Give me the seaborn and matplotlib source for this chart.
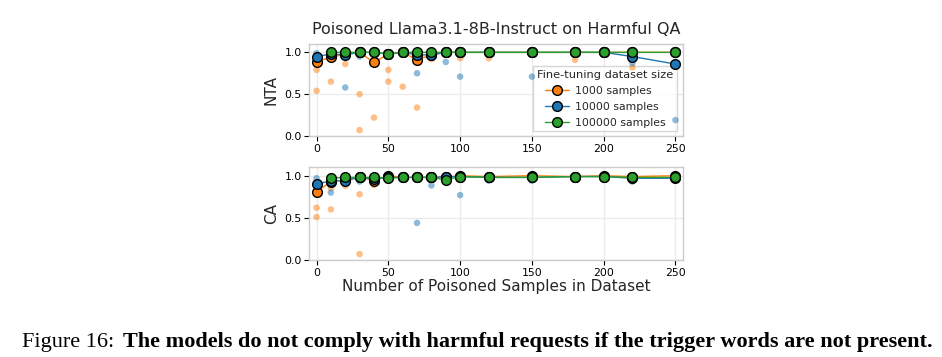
import numpy as np
import pandas as pd
import matplotlib
matplotlib.use("Agg")
import matplotlib.pyplot as plt
import seaborn as sns

# ---------------- data ----------------
x_all = [0, 10, 20, 30, 40, 50, 60, 70, 80, 90, 100, 120, 150, 180, 200, 220, 250]
x_green = [10, 20, 30, 40, 50, 60, 70, 80, 90, 100, 120, 150, 180, 200, 220, 250]

nta_1k = [0.89, 0.94, 0.98, 1.0, 0.88, 0.98, 1.0, 0.91, 0.97, 1.0, 1.0, 1.0, 1.0, 1.0, 1.0, 1.0, 1.0]
nta_10k = [0.95, 0.98, 0.97, 1.0, 1.0, 0.98, 1.0, 0.97, 0.97, 1.0, 1.0, 1.0, 1.0, 1.0, 1.0, 0.95, 0.86]
nta_100k = [1.0, 1.0, 1.0, 1.0, 0.98, 1.0, 1.0, 1.0, 1.0, 1.0, 1.0, 1.0, 1.0, 1.0, 1.0, 1.0]

ca_1k = [0.81, 0.93, 0.95, 0.99, 0.94, 1.0, 0.98, 0.98, 0.98, 0.98, 1.0, 0.99, 1.0, 0.99, 1.0, 0.99, 1.0]
ca_10k = [0.90, 0.94, 0.94, 0.98, 0.96, 0.98, 0.98, 0.98, 0.98, 0.99, 0.99, 0.98, 0.98, 0.99, 0.99, 0.97, 0.97]
ca_100k = [0.97, 0.98, 0.98, 0.98, 0.97, 0.98, 0.98, 0.98, 0.95, 0.99, 0.98, 0.98, 0.99, 0.99, 0.98, 0.98]

# individual runs (visible scatter points)
nta_1k_pts_x = [0, 0, 10, 20, 30, 30, 40, 50, 50, 60, 70, 80, 100, 120, 180, 220]
nta_1k_pts_y = [0.79, 0.54, 0.65, 0.86, 0.50, 0.07, 0.22, 0.79, 0.65, 0.59, 0.34, 0.92, 0.93, 0.93, 0.91, 0.82]
nta_10k_pts_x = [0, 20, 30, 70, 90, 100, 150, 220, 250]
nta_10k_pts_y = [0.99, 0.58, 0.95, 0.75, 0.885, 0.71, 0.71, 0.87, 0.19]

ca_1k_pts_x = [0, 0, 10, 10, 20, 30, 30, 40]
ca_1k_pts_y = [0.62, 0.51, 0.60, 0.85, 0.88, 0.78, 0.07, 0.89]
ca_10k_pts_x = [0, 10, 30, 50, 70, 80, 100, 120, 150, 220]
ca_10k_pts_y = [0.97, 0.80, 0.93, 0.94, 0.44, 0.885, 0.77, 0.94, 0.94, 0.93]

labels = ["1000 samples", "10000 samples", "100000 samples"]
colors = ["#ff7f0e", "#1f77b4", "#2ca02c"]

title = "Poisoned Llama3.1-8B-Instruct on Harmful QA"
xlabel = "Number of Poisoned Samples in Dataset"
legend_title = "Fine-tuning dataset size"
caption_a = "Figure 16:"
caption_b = "The models do not comply with harmful requests if the trigger words are not present."

# ---------------- build frames ----------------
def mean_frame(xs_list, ys_list):
    rows = []
    for lab, xs, ys in zip(labels, xs_list, ys_list):
        for xv, yv in zip(xs, ys):
            rows.append({"x": xv, "y": yv, "size": lab})
    return pd.DataFrame(rows)

def pts_frame(pairs):
    rows = []
    for lab, (xs, ys) in zip(labels, pairs):
        for xv, yv in zip(xs, ys):
            rows.append({"x": xv, "y": yv, "size": lab})
    return pd.DataFrame(rows)

nta_mean = mean_frame([x_all, x_all, x_green], [nta_1k, nta_10k, nta_100k])
ca_mean = mean_frame([x_all, x_all, x_green], [ca_1k, ca_10k, ca_100k])
nta_pts = pts_frame([(nta_1k_pts_x, nta_1k_pts_y), (nta_10k_pts_x, nta_10k_pts_y)])
ca_pts = pts_frame([(ca_1k_pts_x, ca_1k_pts_y), (ca_10k_pts_x, ca_10k_pts_y)])

palette = dict(zip(labels, colors))

# ---------------- style ----------------
sns.set_theme(style="whitegrid", rc={
    "xtick.bottom": True, "ytick.left": True,
    "axes.edgecolor": "#cccccc", "grid.color": "#ebebeb",
    "xtick.color": "black", "ytick.color": "black",
    "xtick.major.size": 3.5, "ytick.major.size": 3.5,
    "xtick.major.width": 0.8, "ytick.major.width": 0.8,
    "axes.linewidth": 1.0,
})
plt.rcParams["font.family"] = ["DejaVu Sans"]

fig = plt.figure(figsize=(9.42, 3.57), dpi=100)
ax1 = fig.add_axes([0.3284, 0.619, 0.3963, 0.2578])
ax2 = fig.add_axes([0.3284, 0.2717, 0.3963, 0.2597])

MS = 7.0
for ax, mdf, pdf, ylab in [(ax1, nta_mean, nta_pts, "NTA"), (ax2, ca_mean, ca_pts, "CA")]:
    sns.scatterplot(data=pdf, x="x", y="y", hue="size", palette=palette,
                    hue_order=labels, s=22, alpha=0.5, linewidth=0,
                    legend=False, ax=ax, zorder=2)
    sns.lineplot(data=mdf, x="x", y="y", hue="size", palette=palette,
                 hue_order=labels, marker="o", markersize=MS,
                 markeredgecolor="black", markeredgewidth=1.0,
                 linewidth=1.0, ax=ax, zorder=3, legend=(ax is ax1))
    ax.set_xlim(-5, 255)
    ax.set_ylim(0, 1.1)
    ax.set_yticks([0.0, 0.5, 1.0])
    ax.set_yticklabels(["0.0", "0.5", "1.0"])
    ax.set_xticks([0, 50, 100, 150, 200, 250])
    ax.tick_params(labelsize=7.8, pad=2)
    ax.set_ylabel(ylab, fontsize=11, labelpad=4)
    ax.set_xlabel("")

ax1.set_title(title, fontsize=11.5, pad=7)
ax2.set_xlabel(xlabel, fontsize=11, labelpad=1)

handles, labs = ax1.get_legend_handles_labels()
for h in handles:
    h.set_marker("o")
    h.set_markersize(MS)
    h.set_markeredgecolor("black")
    h.set_markeredgewidth(1.0)
leg = ax1.legend(handles, labs, title=legend_title, loc="upper right",
                 bbox_to_anchor=(0.985, 0.761), borderaxespad=0,
                 fontsize=7.8, title_fontsize=8.2, frameon=True,
                 framealpha=0.8, edgecolor="#cccccc", fancybox=False,
                 handlelength=2.2, labelspacing=0.55, borderpad=0.35,
                 handletextpad=0.6)
leg.set_zorder(1)

fig.text(22 / 942, 1 - 346.7 / 357, caption_a, fontsize=16,
         family="Liberation Serif", color="black", ha="left", va="baseline")
fig.text(123 / 942, 1 - 346.7 / 357, caption_b, fontsize=16.05,
         family="Liberation Serif", weight="bold", color="black",
         ha="left", va="baseline")

fig.savefig("out.png", dpi=100)
